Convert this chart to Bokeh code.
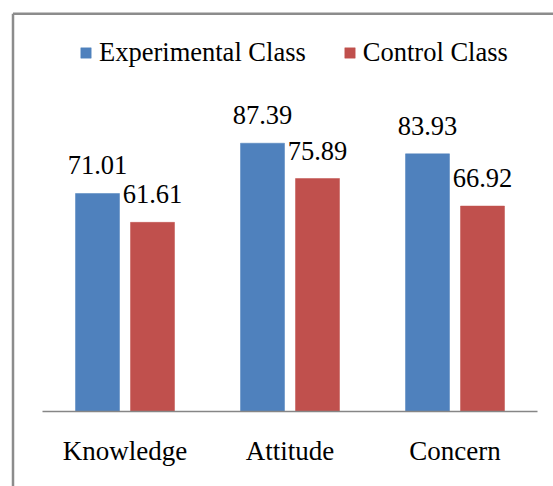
from bokeh.plotting import figure
from bokeh.models import ColumnDataSource, Range1d, Legend, LegendItem
from bokeh.core.properties import value
from bokeh.embed import file_html
from bokeh.resources import INLINE

# ---- data ----
categories = ["Knowledge", "Attitude", "Concern"]
experimental = [71.01, 87.39, 83.93]
control = [61.61, 75.89, 66.92]
series_names = ["Experimental Class", "Control Class"]

# ---- layout constants (pixels) ----
W, H = 553, 486
CAT_PX = 165.0          # width of one category slot
CAT0_X = 124.5          # x of first category centre inside figure
BASE_Y = 411.0          # y of value 0 inside figure (from top)
PX_PER_UNIT = 3.07
BAR_W = 44.0 / CAT_PX
OFFSET = 27.5 / CAT_PX

FONT_NAME = "Times New Roman"
FONT = value(FONT_NAME)
BLUE = "#4F81BD"
RED = "#C0504D"
GRAY = "#8c8c8c"

def xd(px):
    return (px - CAT0_X) / CAT_PX

def yd(py):
    return (BASE_Y - py) / PX_PER_UNIT

p = figure(width=W, height=H, output_backend="svg", toolbar_location=None,
           x_range=Range1d(xd(0), xd(W)), y_range=Range1d(yd(H), yd(0)),
           x_axis_location=None, y_axis_location=None,
           min_border=0, min_border_left=0, min_border_right=0,
           min_border_top=0, min_border_bottom=0)
p.xgrid.visible = False
p.ygrid.visible = False
p.outline_line_color = None
p.background_fill_color = "white"
p.border_fill_color = "white"

idx = list(range(len(categories)))
src_e = ColumnDataSource(dict(x=[i - OFFSET for i in idx], top=experimental,
                              label=[f"{v:.2f}" for v in experimental]))
src_c = ColumnDataSource(dict(x=[i + OFFSET for i in idx], top=control,
                              label=[f"{v:.2f}" for v in control]))

r_e = p.vbar(x="x", top="top", bottom=0, width=BAR_W, source=src_e,
             fill_color=BLUE, line_color=BLUE, line_width=0.5)
r_c = p.vbar(x="x", top="top", bottom=0, width=BAR_W, source=src_c,
             fill_color=RED, line_color=RED, line_width=0.5)

for src in (src_e, src_c):
    p.text(x="x", y="top", text="label", source=src, text_font=FONT,
           text_font_size="26.5px", text_color="black", text_align="center",
           text_baseline="alphabetic", y_offset=-28)

# baseline (category axis line)
p.segment(x0=[-0.5], x1=[len(categories) - 0.5], y0=[0], y1=[0],
          line_color="#868686", line_width=1.5)

# category labels
cat_src = ColumnDataSource(dict(x=idx, y=[0] * len(idx), text=categories))
p.text(x="x", y="y", text="text", source=cat_src, text_font=FONT,
       text_font_size="27px", text_color="black", text_align="center",
       text_baseline="alphabetic", y_offset=39)

# chart border (left and top edges visible)
p.segment(x0=[xd(12.5), xd(12.5)], x1=[xd(12.5), xd(W + 10)],
          y0=[yd(13.3), yd(13.3)], y1=[yd(H + 10), yd(13.3)],
          line_color=GRAY, line_width=2.5)

legend = Legend(items=[LegendItem(label=series_names[0], renderers=[r_e]),
                       LegendItem(label=series_names[1], renderers=[r_c])],
                orientation="horizontal", location=(79, 418),
                glyph_width=13, glyph_height=13, label_standoff=7, spacing=37,
                padding=0, margin=0, border_line_color=None,
                background_fill_alpha=0, label_text_font=FONT_NAME,
                label_text_font_size="26.5px", label_text_color="black")
p.add_layout(legend)

open("out.html", "w").write(file_html(p, INLINE))
